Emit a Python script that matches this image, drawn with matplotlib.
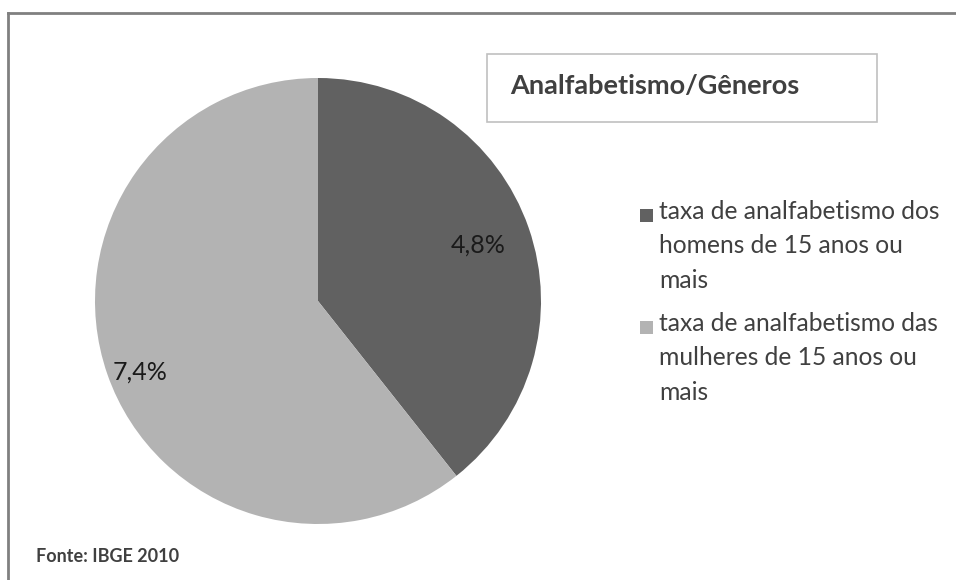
import numpy as np
import matplotlib.pyplot as plt
from matplotlib.patches import Rectangle

plt.rcParams['font.family'] = ['Lato', 'DejaVu Sans']

# dados
categorias = ["taxa de analfabetismo dos\nhomens de 15 anos ou\nmais",
              "taxa de analfabetismo das\nmulheres de 15 anos ou\nmais"]
valores = [4.8, 7.4]
cores = ["#616161", "#b3b3b3"]
titulo = "Analfabetismo/Gêneros"
fonte = "Fonte: IBGE 2010"

W, H = 956, 580
fig = plt.figure(figsize=(W / 100, H / 100), dpi=100)

# moldura (só topo e esquerda aparecem)
fig.add_artist(plt.Line2D([8 / W, 1], [1 - 13 / H, 1 - 13 / H], transform=fig.transFigure,
                          color="#808080", lw=2))
fig.add_artist(plt.Line2D([8 / W, 8 / W], [0, 1 - 13 / H], transform=fig.transFigure,
                          color="#808080", lw=2))

# pizza
ax = fig.add_axes([95 / W, 56 / H, 446 / W, 446 / H])
wedges, _ = ax.pie(valores, colors=cores, startangle=90, counterclock=False,
                   radius=1.0, wedgeprops=dict(linewidth=0))
ax.set_xlim(-1, 1)
ax.set_ylim(-1, 1)
ax.set_aspect('equal')
ax.axis('off')

# rótulos (distância radial e ajuste do ângulo, em graus)
dist = [0.76, 0.86]
desvio = [0, 2.5]
for w, v, d, da in zip(wedges, valores, dist, desvio):
    ang = np.deg2rad((w.theta1 + w.theta2) / 2 + da)
    ax.text(d * np.cos(ang), d * np.sin(ang), f"{v:.1f}%".replace('.', ','),
            ha='center', va='center', fontsize=18, color="#1a1a1a")

# caixa do título
fig.add_artist(Rectangle((487 / W, 1 - 122 / H), 390 / W, 68 / H, transform=fig.transFigure,
                         fill=False, edgecolor="#c0c0c0", lw=1.2))
fig.text(510 / W, 1 - 86 / H, titulo, fontsize=19.5, fontweight='bold', color="#404040",
         ha='left', va='center')

# legenda
y0 = [215, 327]
for cat, cor, y in zip(categorias, cores, y0):
    fig.add_artist(Rectangle((640 / W, 1 - (y + 7) / H), 13 / W, 13 / H, transform=fig.transFigure,
                             facecolor=cor, edgecolor='none'))
    fig.text(659 / W, 1 - (y - 15) / H, cat, fontsize=17.7, color="#404040",
             ha='left', va='top', linespacing=1.6)

fig.text(36 / W, 1 - 556 / H, fonte, fontsize=13, fontweight='bold', color="#404040",
         ha='left', va='center')

fig.savefig("out.png", dpi=100)
